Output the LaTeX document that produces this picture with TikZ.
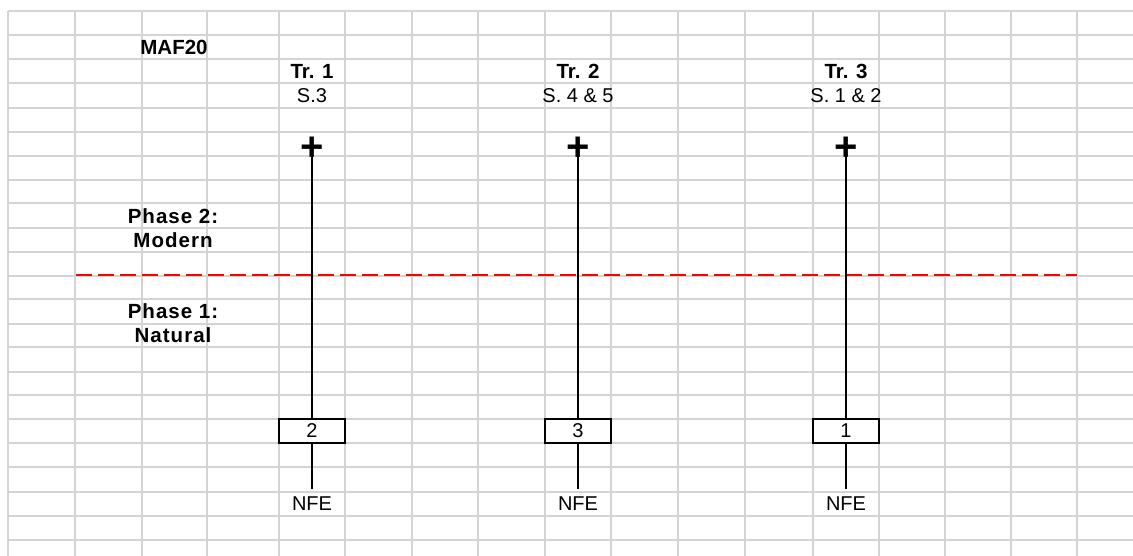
\documentclass[tikz,border=0pt]{standalone}
\usepackage{fontspec}
\setmainfont{Liberation Sans}
\usetikzlibrary{positioning}
\definecolor{gridgray}{HTML}{D4D4D4}

\begin{document}
\begin{tikzpicture}[x=1pt,y=-1pt,
	gridline/.style={draw=gridgray,line width=1.8pt},
	cell/.style={font=\fontsize{20}{24}\selectfont,inner sep=0pt},
	head/.style={cell,font=\fontsize{20.5}{24}\selectfont\bfseries},
	phase/.style={cell,font=\fontsize{20.5}{24}\selectfont\bfseries\addfontfeatures{LetterSpace=5}},
	plus/.style={inner sep=0pt,font=\fontsize{40}{40}\selectfont\bfseries},
	sample/.style={draw,line width=2pt,minimum width=66pt,minimum height=24pt,inner sep=0pt,font=\fontsize{20}{24}\selectfont},
	trace/.style={line width=1.3pt}]
	\useasboundingbox (0,0) rectangle (1133,556);
	% spreadsheet grid
	\foreach \gx in {8,75,142,207,279,345,412,478,545,611,678,745,813,879,945,1011,1077}
		\draw[gridline] (\gx,11) -- (\gx,556);
	\foreach \gy in {11,35,59,83,108,132,156,180,203,228,252,276,299,324,347,372,395,419,443,467,492,516,540}
		\draw[gridline] (8,\gy) -- (1133,\gy);
	% labels on the left
	\node[head] (site) at (174,47) {MAF20};
	\node[phase] (ph2) at (173,216) {Phase 2:};
	\node[phase] (ph2name) at (173,240) {Modern};
	\node[phase] (ph1) at (173,311.5) {Phase 1:};
	\node[phase] (ph1name) at (173,335.5) {Natural};
	% phase boundary
	\draw[red,line width=2pt,dash pattern=on 16pt off 6pt] (76,275) -- (1077,275);
	% traces
	\foreach \x/\k/\s/\num in {312/1/S.3/2, 578/2/{S. 4 \& 5}/3, 846/3/{S. 1 \& 2}/1} {
		\node[head] (tr\k) at (\x,71.5) {Tr. \k};
		\node[cell] (s\k) at (\x,95.5) {\s};
		\node[plus] (plus\k) at (\x,149) {+};
		\node[sample] (box\k) at (\x,431) {\num};
		\node[cell] (nfe\k) at (\x,503.5) {NFE};
		\draw[trace] (plus\k.center) -- (box\k);
		\draw[trace] (box\k) -- ([yshift=7pt]nfe\k.north);
	}
\end{tikzpicture}
\end{document}
